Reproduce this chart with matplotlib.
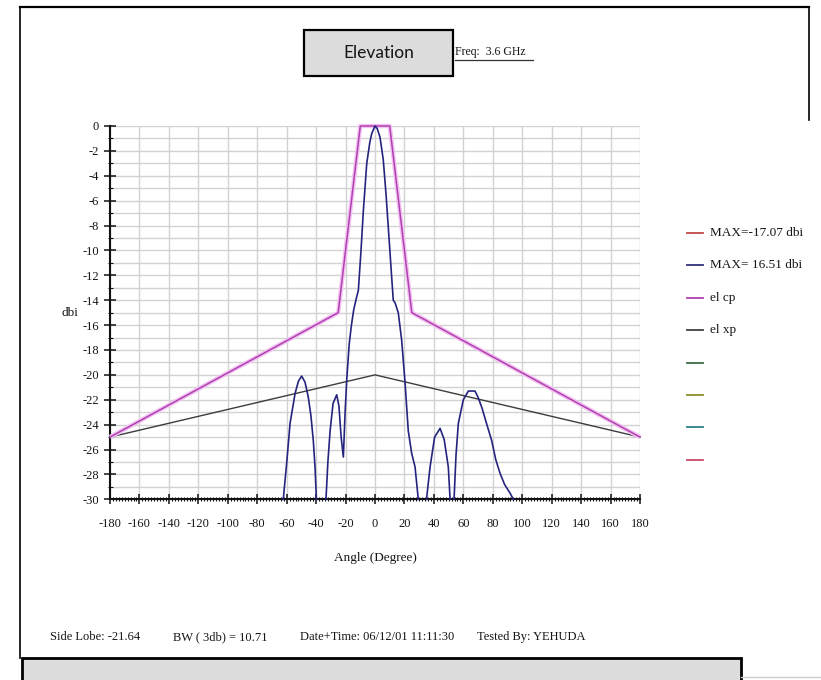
import numpy as np
import matplotlib
matplotlib.use("Agg")
import matplotlib.pyplot as plt
from matplotlib.lines import Line2D
from matplotlib.patches import Rectangle

W, H = 821, 680

# Measured elevation pattern (dB, normalised). NaN separates lobes that
# drop below the -30 dB floor of the plot.
meas_angle = [
    -62.3, -60.0, -57.7, -54.3, -52.0, -49.8, -47.5, -45.3, -43.5, -41.9, -40.7, -39.8, np.nan,
    -33.3, -32.0, -30.5, -28.5, -26.0, -24.5, -23.0, -21.5, -20.3, -19.2, -17.5, -16.0,
    -14.5, -13.0, -11.3, -9.5, -7.9, -5.6, -3.5, -2.2, 0.0, 1.5, 3.4, 5.6, 7.5, 9.0,
    11.3, 12.4, 13.6, 15.8, 18.1, 20.4, 22.6, 24.9, 27.2, 29.4, np.nan,
    35.0, 37.4, 40.5, 44.2, 47.0, 49.8, 51.0, np.nan,
    53.7, 55.0, 56.6, 60.0, 63.4, 67.9, 70.0, 72.5, 76.0, 79.3, 82.0, 84.9, 88.0, 91.7, 94.0,
]
meas_db = [
    -30.0, -27.1, -23.9, -21.5, -20.5, -20.1, -20.6, -21.8, -23.3, -25.3, -27.5, -30.0, np.nan,
    -30.0, -27.0, -24.5, -22.3, -21.6, -22.5, -25.0, -26.6, -23.0, -20.4, -17.5, -16.0,
    -14.8, -14.0, -13.2, -10.0, -6.8, -3.0, -1.3, -0.6, 0.0, -0.2, -0.9, -2.7, -5.5, -8.1,
    -12.1, -14.0, -14.2, -15.0, -17.2, -20.6, -24.5, -26.3, -27.4, -30.0, np.nan,
    -30.0, -27.4, -25.0, -24.3, -25.2, -27.4, -30.0, np.nan,
    -30.0, -26.5, -23.9, -22.0, -21.3, -21.3, -21.8, -22.6, -24.0, -25.3, -26.8, -27.9, -28.8, -29.5, -30.0,
]

# Co-polar and cross-polar mask lines
cp_angle = [-180, -25, -10, 10, 25, 180]
cp_db = [-25, -15, 0, 0, -15, -25]
xp_angle = [-180, 0, 180]
xp_db = [-25, -20, -25]

legend_labels = ["MAX=-17.07 dbi", "MAX= 16.51 dbi", "el cp", "el xp", "", "", "", ""]
legend_colors = ["#c04848", "#30307a", "#b040b0", "#404040",
                 "#3c6e48", "#8c8c28", "#2a7f8a", "#c84a6a"]

x_ticks = list(range(-180, 181, 20))
y_ticks = list(range(0, -31, -2))

footer_items = ["Side Lobe: -21.64", "BW ( 3db) = 10.71",
                "Date+Time: 06/12/01 11:11:30", "Tested By: YEHUDA"]
footer_x = [50, 173, 300, 477]

title_text = "Elevation"
freq_text = "Freq:  3.6 GHz"

SERIF = "Liberation Serif"
TXT = "#151515"


def fx(px):
    return px / W


def fy(py):
    return 1 - py / H


fig = plt.figure(figsize=(W / 100, H / 100), dpi=100)
fig.patch.set_facecolor("white")

# page frame
fig.add_artist(Line2D([fx(20), fx(809)], [fy(7), fy(7)], color="black", lw=1.6))
fig.add_artist(Line2D([fx(20), fx(20)], [fy(7), fy(658)], color="black", lw=1.2))
fig.add_artist(Line2D([fx(809), fx(809)], [fy(7), fy(120)], color="black", lw=1.2))

# title box
fig.add_artist(Rectangle((fx(304), fy(76)), fx(453) - fx(304), fy(30) - fy(76),
                         facecolor="#dcdcdc", edgecolor="black", lw=1.6))
fig.text(fx(378.5), fy(53), title_text, ha="center", va="center",
         fontsize=12.5, family="Lato", color=TXT)
fig.text(fx(455), fy(52), freq_text, ha="left", va="center",
         fontsize=8.5, family=SERIF, color=TXT)
fig.add_artist(Line2D([fx(455), fx(533)], [fy(60), fy(60)], color="#333333", lw=0.9))

# plotting area
ax = fig.add_axes([fx(110), fy(499.3), fx(640) - fx(110), (499.3 - 126) / H])
ax.set_xlim(-180, 180)
ax.set_ylim(-30, 0)
ax.set_facecolor("white")

ax.set_xticks(x_ticks)
ax.set_xticklabels([str(v) for v in x_ticks])
ax.set_xticks(np.arange(-180, 181, 2), minor=True)
ax.set_yticks(y_ticks)
ax.set_yticklabels([str(v) for v in y_ticks])
ax.set_yticks(np.arange(0, -31, -1), minor=True)

ax.grid(which="major", axis="x", color="#d2d2d2", lw=1.0)
ax.grid(which="both", axis="y", color="#d2d2d2", lw=1.0)
ax.set_axisbelow(True)

for s in ("top", "right"):
    ax.spines[s].set_visible(False)
for s in ("left", "bottom"):
    ax.spines[s].set_color("#111111")
    ax.spines[s].set_linewidth(1.5)

ax.tick_params(axis="x", which="major", direction="inout", length=6.5, width=1.1,
               pad=10.5, labelsize=9, colors="#111111")
ax.tick_params(axis="x", which="minor", direction="inout", length=3, width=0.8,
               colors="#111111")
ax.tick_params(axis="y", which="major", direction="inout", length=8, width=1.1,
               pad=4, labelsize=9, colors="#111111")
ax.tick_params(axis="y", which="minor", direction="inout", length=3.6, width=0.8,
               colors="#111111")
for lab in ax.get_xticklabels() + ax.get_yticklabels():
    lab.set_family(SERIF)
    lab.set_color(TXT)

ax.plot(xp_angle, xp_db, color="#3c3c3c", lw=1.0, clip_on=False, zorder=3)
ax.plot(cp_angle, cp_db, color="#f2c2f2", lw=3.2, clip_on=False, zorder=3,
        solid_capstyle="butt")
ax.plot(cp_angle, cp_db, color="#b040b0", lw=1.1, clip_on=False, zorder=4)
ax.plot(meas_angle, meas_db, color="#24247e", lw=1.2, clip_on=False, zorder=5)

fig.text(fx(78), fy(313), "dbi", ha="right", va="center", fontsize=9.5,
         family=SERIF, color=TXT)
fig.text(fx(375), fy(558), "Angle (Degree)", ha="center", va="center",
         fontsize=9.5, family=SERIF, color=TXT)

# legend column
for i, (lab, col) in enumerate(zip(legend_labels, legend_colors)):
    yy = 233 + i * 32.4
    fig.add_artist(Line2D([fx(687), fx(703)], [fy(yy), fy(yy)], color=col, lw=1.3))
    if lab:
        fig.text(fx(710), fy(yy), lab, ha="left", va="center", fontsize=9.5,
                 family=SERIF, color=TXT)

# footer
for txt, x0 in zip(footer_items, footer_x):
    fig.text(fx(x0), fy(637), txt, ha="left", va="center", fontsize=9,
             family=SERIF, color=TXT)

fig.add_artist(Rectangle((fx(22), fy(690)), fx(741) - fx(22), fy(658) - fy(690),
                         facecolor="#dcdcdc", edgecolor="black", lw=2.0))
fig.add_artist(Line2D([fx(741), fx(821)], [fy(677), fy(677)], color="#cfcfcf", lw=1.0))

fig.savefig("out.png", dpi=100, facecolor="white")
